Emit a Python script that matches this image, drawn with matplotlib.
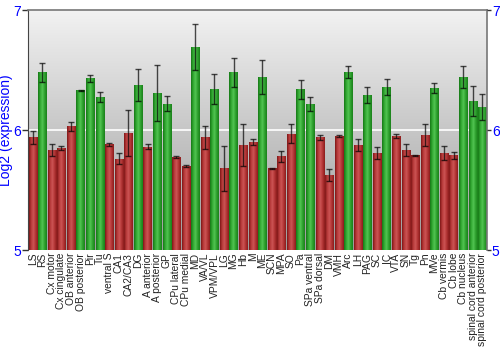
import numpy as np
import matplotlib
matplotlib.use("Agg")
import matplotlib.pyplot as plt
from matplotlib.colors import LinearSegmentedColormap

plt.rcParams['font.family'] = ['Liberation Sans', 'DejaVu Sans']

regions = ["LS", "RS", "Cx motor", "Cx cingulate", "OB anterior", "OB posterior", "Pir", "Tu",
           "ventral S", "CA1", "CA2/CA3", "DG", "A anterior", "A posterior", "GP", "CPu lateral",
           "CPu medial", "MD", "VA/VL", "VPM/VPL", "LG", "MG", "Hb", "M", "ME", "SCN", "MPA", "SO",
           "Pa", "SPa ventral", "SPa dorsal", "DM", "VMH", "Arc", "LH", "PAG", "SC", "IC", "VTA",
           "SN", "Tg", "Pn", "MVe", "Cb vermis", "Cb lobe", "Cb nucleus",
           "spinal cord anterior", "spinal cord posterior"]
values = [5.94, 6.48, 5.83, 5.85, 6.03, 6.33, 6.43, 6.275,
          5.88, 5.76, 5.975, 6.375, 5.86, 6.31, 6.22, 5.775,
          5.70, 6.69, 5.94, 6.34, 5.68, 6.48, 5.875, 5.90, 6.44, 5.68, 5.78, 5.97,
          6.34, 6.215, 5.94, 5.625, 5.95, 6.48, 5.875, 6.29, 5.81, 6.36, 5.95,
          5.835, 5.79, 5.96, 6.35, 5.81, 5.79, 6.44,
          6.24, 6.19]
errors = [0.055, 0.08, 0.05, 0.02, 0.04, 0.005, 0.03, 0.04,
          0.01, 0.045, 0.19, 0.13, 0.02, 0.235, 0.06, 0.01,
          0.01, 0.19, 0.095, 0.125, 0.19, 0.12, 0.175, 0.025, 0.14, 0.005, 0.045, 0.08,
          0.08, 0.06, 0.02, 0.05, 0.005, 0.05, 0.05, 0.065, 0.05, 0.065, 0.015,
          0.05, 0.005, 0.09, 0.045, 0.06, 0.03, 0.09,
          0.125, 0.11]
y_ticks = [5, 6, 7]
y_label = "Log2 (expression)"

fig = plt.figure(figsize=(5, 3.5), dpi=100)
ax = fig.add_axes([0.056, 0.2857, 0.918, 0.6857])
ymin, ymax = 5, 7
n = len(regions)
x = np.arange(n)
ax.set_xlim(-0.5, n - 0.5)
ax.set_ylim(ymin, ymax)

# background gradient
bg = LinearSegmentedColormap.from_list("bg", ["#9c9c9c", "#f2f2f2"])
grad = np.linspace(0, 1, 256).reshape(-1, 1)
ax.imshow(grad, cmap=bg, aspect="auto", origin="lower",
          extent=(-0.5, n - 0.5, ymin, ymax), zorder=0)

ax.axhline(6, color="white", lw=1.2, zorder=1)

threshold = np.mean(values)
red_cm = LinearSegmentedColormap.from_list("r", ["#7e1616", "#b83a3a", "#cc5555", "#b23434", "#8a1c1c"])
green_cm = LinearSegmentedColormap.from_list("g", ["#167816", "#32a832", "#52c452", "#2ea02e", "#1a801a"])
hgrad = np.linspace(0, 1, 64).reshape(1, -1)
width = 0.86
bars = ax.bar(x, np.array(values) - ymin, bottom=ymin, width=width,
              color="none", edgecolor="none", zorder=2)
for b, v in zip(bars, values):
    cm = green_cm if v > threshold else red_cm
    x0 = b.get_x()
    im = ax.imshow(hgrad, cmap=cm, aspect="auto",
                   extent=(x0, x0 + b.get_width(), ymin, v), zorder=2)
    im.set_clip_path(b)

ax.errorbar(x, values, yerr=errors, fmt="none", ecolor="black", elinewidth=1,
            capsize=2.5, capthick=1, alpha=0.7, zorder=3)

ax.set_xlim(-0.5, n - 0.5)
ax.set_ylim(ymin, ymax)
ax.set_xticks(x)
ax.set_xticklabels(regions, rotation=90, fontsize=7.4, color="#222222")
ax.tick_params(axis="x", length=0, pad=2)
ax.set_yticks(y_ticks)
ax.tick_params(axis="y", which="both", labelsize=10, labelcolor="blue",
               left=True, right=False, labelleft=True, labelright=False,
               length=4, width=1, color="#333333", pad=1)
ax.set_ylabel(y_label, color="blue", fontsize=10, va="center")
ax.yaxis.set_label_coords(-0.047, 0.5)

ax2 = ax.twinx()
ax2.set_ylim(ymin, ymax)
ax2.set_yticks(y_ticks)
ax2.tick_params(axis="y", labelsize=10, labelcolor="blue", length=3, width=1,
                color="#333333", pad=0.5)
for s in ax2.spines.values():
    s.set_visible(False)

for side in ["top", "right"]:
    ax.spines[side].set_color("#777777")
    ax.spines[side].set_linewidth(1.2)
ax.spines["left"].set_color("#444444")
ax.spines["bottom"].set_visible(False)

fig.savefig("out.png", dpi=100)
